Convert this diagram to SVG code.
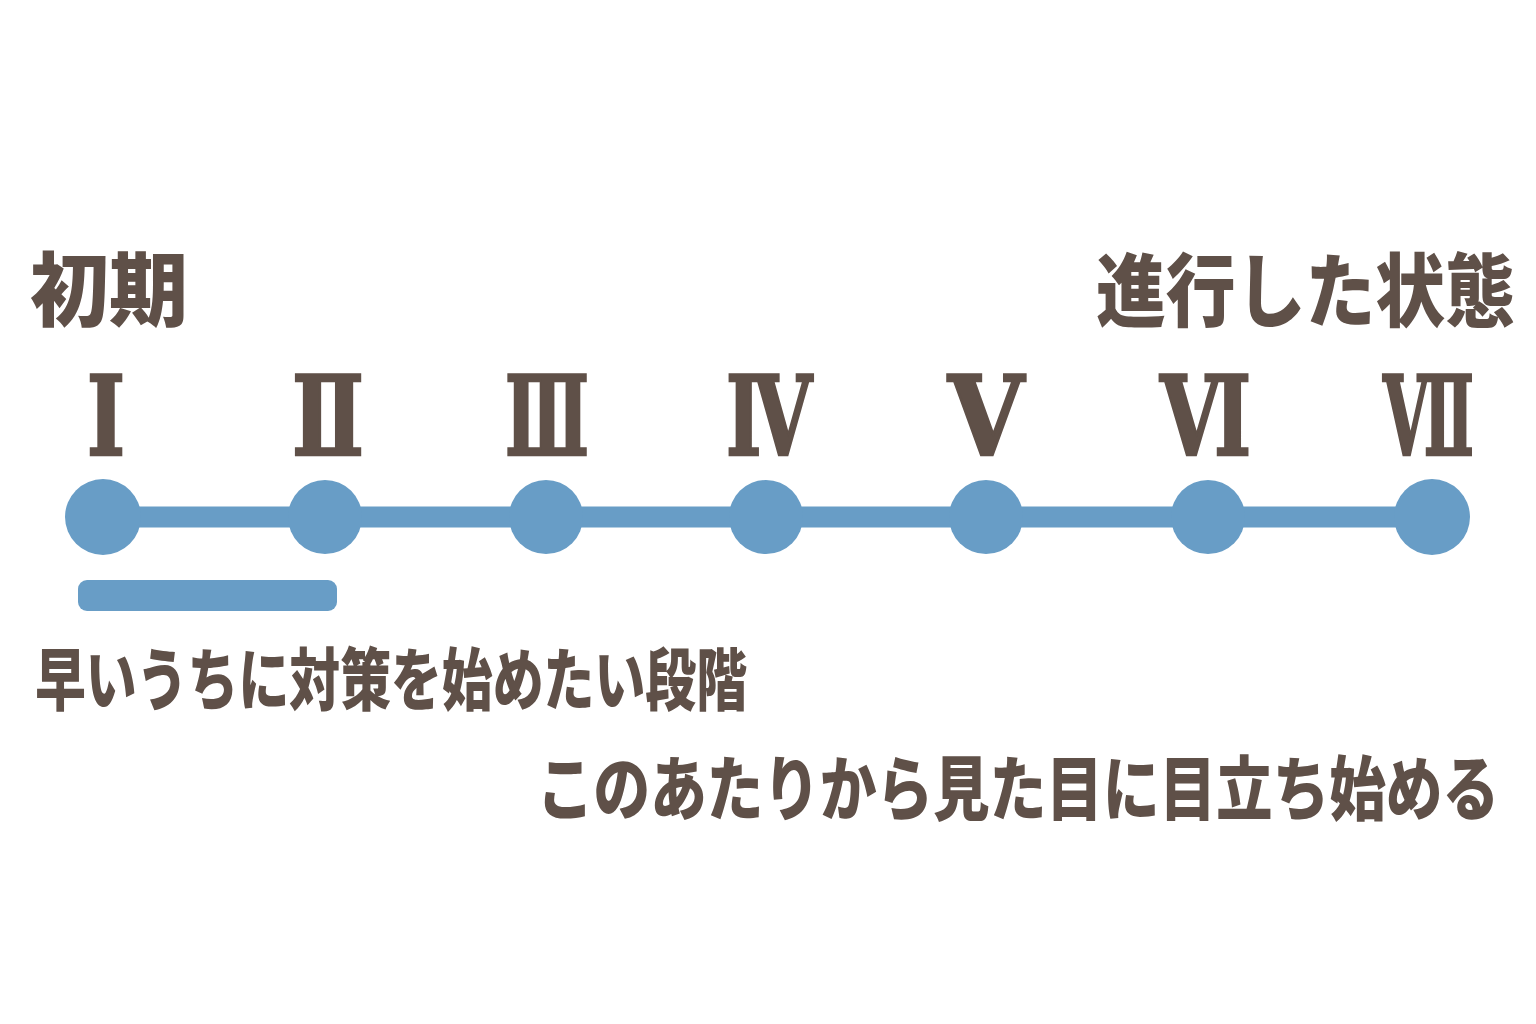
<svg xmlns="http://www.w3.org/2000/svg" width="1536" height="1024" viewBox="0 0 1536 1024">
<style>
.t{font-family:"Noto Sans CJK JP","Noto Sans",sans-serif;font-weight:900;fill:#5f5048}
.r{font-family:"DejaVu Serif","Liberation Serif",serif;font-weight:bold;font-stretch:condensed;fill:#5f5048;stroke:#5f5048;stroke-width:2.5;font-size:110px}
.n{fill:#689dc6}
.c{stroke:#689dc6;stroke-width:21;fill:none}
</style>
<rect width="1536" height="1024" fill="#ffffff"/>
<g id="labels">
<text class="t" x="30" y="319" font-size="80" textLength="158" lengthAdjust="spacingAndGlyphs">初期</text>
<text class="t" x="1096" y="320" font-size="80" textLength="419" lengthAdjust="spacingAndGlyphs">進行した状態</text>
</g>
<g id="connectors">
<line class="c" x1="103" y1="517" x2="1432" y2="517"/>
</g>
<g id="stage1"><text class="r" x="87" y="455" textLength="38" lengthAdjust="spacingAndGlyphs">Ⅰ</text><circle class="n" cx="103" cy="517" r="38"/></g>
<g id="stage2"><text class="r" x="292" y="455" textLength="72" lengthAdjust="spacingAndGlyphs">Ⅱ</text><circle class="n" cx="325" cy="517" r="37"/></g>
<g id="stage3"><text class="r" x="505" y="455" textLength="84" lengthAdjust="spacingAndGlyphs">Ⅲ</text><circle class="n" cx="546" cy="517" r="37"/></g>
<g id="stage4"><text class="r" x="726" y="455" textLength="86" lengthAdjust="spacingAndGlyphs">Ⅳ</text><circle class="n" cx="766" cy="517" r="37"/></g>
<g id="stage5"><text class="r" x="948" y="455" textLength="76" lengthAdjust="spacingAndGlyphs">Ⅴ</text><circle class="n" cx="986" cy="517" r="37"/></g>
<g id="stage6"><text class="r" x="1160" y="455" textLength="91" lengthAdjust="spacingAndGlyphs">Ⅵ</text><circle class="n" cx="1208" cy="517" r="37"/></g>
<g id="stage7"><text class="r" x="1383" y="455" textLength="91" lengthAdjust="spacingAndGlyphs">Ⅶ</text><circle class="n" cx="1432" cy="517" r="38"/></g>
<g id="early-range">
<rect class="n" x="78" y="580" width="259" height="31" rx="9"/>
<text class="t" x="35" y="705" font-size="68" textLength="712" lengthAdjust="spacingAndGlyphs">早いうちに対策を始めたい段階</text>
</g>
<g id="visible-note">
<text class="t" x="537" y="815" font-size="70" textLength="962" lengthAdjust="spacingAndGlyphs">このあたりから見た目に目立ち始める</text>
</g>
</svg>
